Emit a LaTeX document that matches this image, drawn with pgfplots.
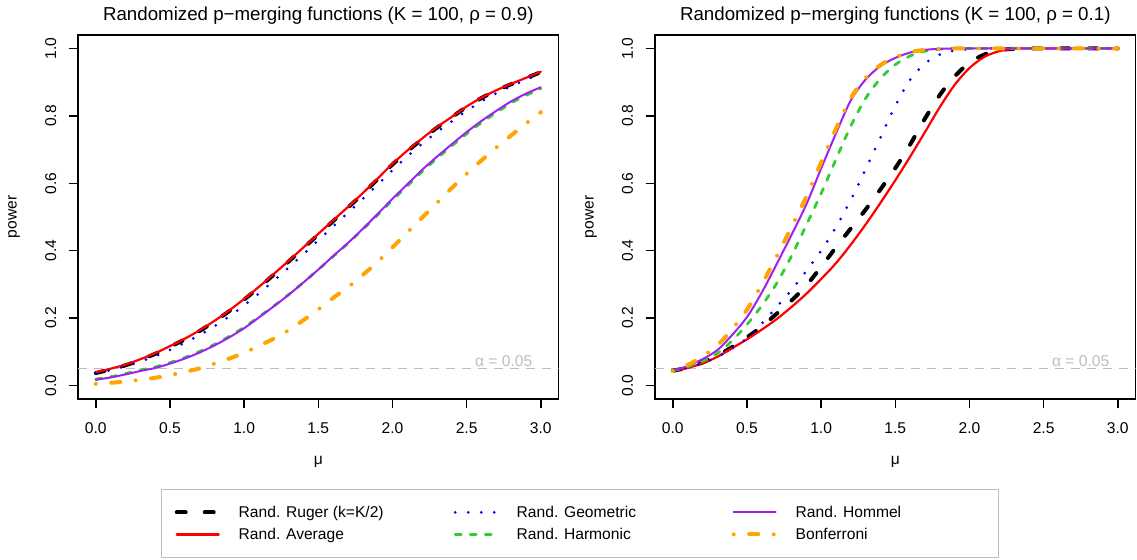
\documentclass[border=0pt]{standalone}
\usepackage{fontspec}
\setmainfont{Liberation Sans}
\usepackage{pgfplots}
\usepackage{pgfplotstable}
\pgfplotsset{compat=1.18}
\definecolor{rgreen}{HTML}{32CD32}
\definecolor{rpurple}{HTML}{A020F0}
\definecolor{rorange}{HTML}{FFA500}
\definecolor{rgray}{HTML}{BEBEBE}

\pgfplotstableread{
x ruger avg geo harm hom bonf
0.0 0.037 0.039 0.036 0.019 0.017 0.005
0.1 0.048 0.050 0.046 0.026 0.024 0.008
0.2 0.060 0.062 0.057 0.035 0.033 0.012
0.3 0.076 0.078 0.071 0.046 0.043 0.017
0.4 0.094 0.096 0.087 0.055 0.052 0.023
0.5 0.115 0.117 0.106 0.068 0.065 0.031
0.6 0.137 0.139 0.127 0.083 0.080 0.040
0.7 0.162 0.164 0.150 0.101 0.098 0.051
0.8 0.190 0.192 0.176 0.122 0.119 0.065
0.9 0.221 0.223 0.205 0.146 0.143 0.080
1.0 0.255 0.257 0.238 0.173 0.170 0.097
1.1 0.291 0.293 0.273 0.204 0.202 0.118
1.2 0.329 0.331 0.311 0.236 0.235 0.139
1.3 0.368 0.370 0.350 0.270 0.269 0.164
1.4 0.408 0.410 0.390 0.306 0.306 0.194
1.5 0.448 0.450 0.431 0.344 0.344 0.226
1.6 0.488 0.490 0.472 0.383 0.384 0.260
1.7 0.528 0.530 0.513 0.422 0.423 0.292
1.8 0.569 0.571 0.554 0.463 0.465 0.328
1.9 0.612 0.614 0.596 0.506 0.509 0.367
2.0 0.656 0.658 0.639 0.550 0.554 0.410
2.1 0.695 0.697 0.680 0.592 0.597 0.454
2.2 0.731 0.733 0.717 0.635 0.640 0.498
2.3 0.765 0.767 0.752 0.674 0.679 0.542
2.4 0.796 0.797 0.784 0.711 0.716 0.586
2.5 0.827 0.828 0.815 0.747 0.752 0.628
2.6 0.853 0.854 0.843 0.780 0.785 0.668
2.7 0.875 0.876 0.867 0.810 0.815 0.706
2.8 0.894 0.895 0.888 0.838 0.843 0.742
2.9 0.912 0.913 0.907 0.861 0.866 0.777
3.0 0.930 0.931 0.925 0.880 0.885 0.811
}\leftdata

\pgfplotstableread{
x ruger avg geo harm hom bonf
0.0 0.044 0.044 0.044 0.044 0.044 0.043
0.1 0.053 0.052 0.053 0.056 0.058 0.061
0.2 0.068 0.066 0.066 0.072 0.078 0.086
0.3 0.089 0.085 0.085 0.095 0.105 0.119
0.4 0.114 0.111 0.110 0.133 0.150 0.167
0.5 0.143 0.137 0.140 0.181 0.203 0.225
0.6 0.175 0.166 0.184 0.237 0.276 0.300
0.7 0.213 0.197 0.233 0.303 0.360 0.383
0.8 0.252 0.233 0.283 0.384 0.447 0.470
0.9 0.297 0.272 0.340 0.476 0.537 0.560
1.0 0.352 0.316 0.400 0.570 0.644 0.662
1.1 0.410 0.363 0.470 0.671 0.748 0.762
1.2 0.466 0.418 0.550 0.770 0.846 0.853
1.3 0.522 0.478 0.642 0.852 0.908 0.913
1.4 0.582 0.542 0.736 0.911 0.948 0.951
1.5 0.645 0.609 0.830 0.952 0.972 0.974
1.6 0.715 0.679 0.907 0.978 0.988 0.989
1.7 0.792 0.752 0.955 0.992 0.996 0.996
1.8 0.862 0.826 0.982 0.998 0.999 0.999
1.9 0.917 0.892 0.994 1.000 1.000 1.000
2.0 0.958 0.942 0.998 1.000 1.000 1.000
2.1 0.982 0.975 1.000 1.000 1.000 1.000
2.2 0.995 0.992 1.000 1.000 1.000 1.000
2.3 0.999 0.999 1.000 1.000 1.000 1.000
2.4 1.000 1.000 1.000 1.000 1.000 1.000
2.6 1.000 1.000 1.000 1.000 1.000 1.000
2.8 1.000 1.000 1.000 1.000 1.000 1.000
3.0 1.000 1.000 1.000 1.000 1.000 1.000
}\rightdata

\tikzset{
  sruger/.style={black, line width=2pt, dash pattern=on 4.5pt off 9.5pt, line cap=round, line join=round},
  savg/.style={red, line width=1.1pt, solid, line cap=round, line join=round},
  sgeo/.style={blue, line width=1.5pt, dash pattern=on 0pt off 6.5pt, line cap=round, line join=round},
  sharm/.style={rgreen, line width=1.4pt, dash pattern=on 3pt off 4.5pt, line cap=round, line join=round},
  shom/.style={rpurple, line width=1pt, solid, line cap=round, line join=round},
  sbonf/.style={rorange, line width=2pt, dash pattern=on 0pt off 7.75pt on 4.5pt off 7.75pt, line cap=round, line join=round},
}

\pgfplotsset{
  mypanel/.style={
    scale only axis, width=240.3pt, height=182pt,
    xmin=-0.12, xmax=3.12, ymin=-0.04, ymax=1.04,
    xtick={0,0.5,1,1.5,2,2.5,3}, xticklabels={0.0,0.5,1.0,1.5,2.0,2.5,3.0},
    ytick={0,0.2,0.4,0.6,0.8,1}, yticklabels={0.0,0.2,0.4,0.6,0.8,1.0},
    tick align=outside, major tick length=4.65pt,
    tick pos=left,
    tick style={black, line width=0.75pt},
    axis line style={line width=0.75pt},
    xticklabel style={anchor=base, inner sep=0pt, yshift=-12.5pt},
    yticklabel style={xshift=-6.35pt, rotate=90, anchor=base, inner sep=0pt},
    every axis x label/.style={at={(axis description cs:0.5,-0.18)}, anchor=base, inner sep=0pt},
    every axis y label/.style={at={(axis description cs:-0.1275,0.5)}, rotate=90, anchor=base, inner sep=0pt},
    every axis title/.style={at={(axis description cs:0.5,1.0404)}, anchor=base, inner sep=0pt, font=\fontsize{9.36}{11}\selectfont},
    xlabel={μ}, ylabel={power},
    legend image code/.code={\draw[##1] (0pt,0pt) -- (21pt,0pt);},
  }
}

\begin{document}
\begin{tikzpicture}[font=\fontsize{7.8}{9.4}\selectfont]
\useasboundingbox (0,0) rectangle (568.5pt,-279.5pt);
\begin{axis}[mypanel, at={(39pt,-199.5pt)}, anchor=south west,
  title={Randomized p−merging functions (K = 100, ρ = 0.9)}]
  \addplot[rgray, line width=0.6pt, dash pattern=on 4.5pt off 3.5pt, forget plot] coordinates {(-0.12,0.05) (3.12,0.05)};
  \node[text=rgray, anchor=base, inner sep=0pt] at (axis cs:2.75,0.05) [yshift=1.2pt] {α = 0.05};
  \addplot[sruger, smooth] table[x=x, y=ruger] {\leftdata};
  \addplot[savg, smooth] table[x=x, y=avg] {\leftdata};
  \addplot[sgeo, smooth] table[x=x, y=geo] {\leftdata};
  \addplot[sharm, smooth] table[x=x, y=harm] {\leftdata};
  \addplot[shom, smooth] table[x=x, y=hom] {\leftdata};
  \addplot[sbonf, smooth] table[x=x, y=bonf] {\leftdata};
\end{axis}
\begin{axis}[mypanel, at={(327.5pt,-199.5pt)}, anchor=south west,
  title={Randomized p−merging functions (K = 100, ρ = 0.1)},
  legend columns=3, legend cell align=left,
  legend style={at={(axis description cs:-1.0276,-0.2467)}, anchor=north west,
    draw=rgray, line width=0.6pt, inner xsep=6.5pt, inner ysep=6pt,
    column sep=0pt, row sep=0pt, font=\fontsize{7.8}{9.4}\selectfont,
    nodes={inner sep=0pt, text height=8.2pt, text depth=2.8pt}}]
  \addlegendimage{sruger}\addlegendentry{\makebox[116.5pt][l]{\hspace{9pt}Rand. Ruger (k=K/2)}}
  \addlegendimage{sgeo}\addlegendentry{\makebox[116.5pt][l]{\hspace{9pt}Rand. Geometric}}
  \addlegendimage{shom}\addlegendentry{\makebox[103.9pt][l]{\hspace{9pt}Rand. Hommel}}
  \addlegendimage{savg}\addlegendentry{\makebox[116.5pt][l]{\hspace{9pt}Rand. Average}}
  \addlegendimage{sharm}\addlegendentry{\makebox[116.5pt][l]{\hspace{9pt}Rand. Harmonic}}
  \addlegendimage{sbonf}\addlegendentry{\makebox[103.9pt][l]{\hspace{9pt}Bonferroni}}
  \addplot[rgray, line width=0.6pt, dash pattern=on 4.5pt off 3.5pt, forget plot] coordinates {(-0.12,0.05) (3.12,0.05)};
  \node[text=rgray, anchor=base, inner sep=0pt] at (axis cs:2.75,0.05) [yshift=1.2pt] {α = 0.05};
  \addplot[sruger, smooth, forget plot] table[x=x, y=ruger] {\rightdata};
  \addplot[savg, smooth, forget plot] table[x=x, y=avg] {\rightdata};
  \addplot[sgeo, smooth, forget plot] table[x=x, y=geo] {\rightdata};
  \addplot[sharm, smooth, forget plot] table[x=x, y=harm] {\rightdata};
  \addplot[shom, smooth, forget plot] table[x=x, y=hom] {\rightdata};
  \addplot[sbonf, smooth, forget plot] table[x=x, y=bonf] {\rightdata};
\end{axis}
\end{tikzpicture}
\end{document}
